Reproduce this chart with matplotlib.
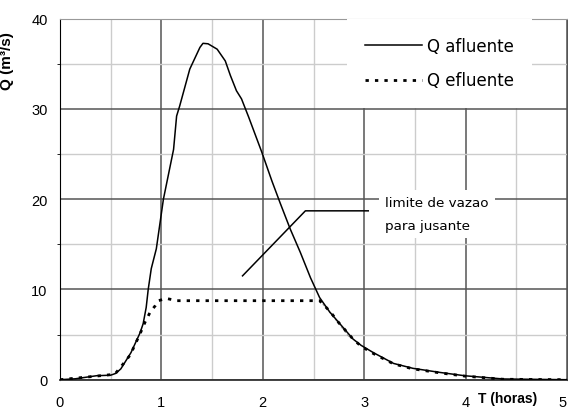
import matplotlib.pyplot as plt
from matplotlib.ticker import MultipleLocator

plt.rcParams["font.family"] = ["Liberation Sans", "DejaVu Sans"]

# hidrograma afluente (Q afluente)
t_afl = [0.0, 0.15, 0.36, 0.50, 0.55, 0.60, 0.70, 0.79, 0.82, 0.85, 0.87, 0.90,
         0.95, 1.02, 1.12, 1.15, 1.18, 1.28, 1.38, 1.41, 1.46, 1.55, 1.63, 1.68,
         1.74, 1.79, 1.86, 1.99, 2.09, 2.17, 2.27, 2.37, 2.47, 2.56, 2.66, 2.89,
         2.97, 3.09, 3.29, 3.48, 3.75, 3.99, 4.37, 5.0]
q_afl = [0.0, 0.1, 0.44, 0.5, 0.7, 1.2, 3.0, 5.2, 6.2, 8.0, 10.0, 12.3,
         14.5, 20.0, 25.5, 29.2, 30.3, 34.4, 36.8, 37.25, 37.2, 36.6, 35.3, 33.7,
         32.0, 31.1, 29.1, 25.2, 22.0, 19.6, 16.7, 14.1, 11.3, 9.1, 7.5, 4.5,
         3.8, 3.0, 1.8, 1.26, 0.8, 0.44, 0.08, 0.0]

# hidrograma efluente (Q efluente)
t_efl = [0.0, 0.36, 0.54, 0.62, 0.69, 0.72, 0.79, 0.84, 0.89, 0.94, 0.97, 1.05,
         1.15, 1.3, 2.0, 2.56, 2.66, 2.75, 2.89, 2.97, 3.09, 3.29, 3.48, 3.75,
         3.99, 4.37, 5.0]
q_efl = [0.0, 0.4, 0.6, 1.7, 2.7, 3.4, 5.1, 6.4, 7.5, 8.2, 8.75, 9.0,
         8.75, 8.75, 8.75, 8.75, 7.6, 6.3, 4.5, 3.7, 2.9, 1.75, 1.2, 0.75,
         0.4, 0.05, 0.0]

# trecho fino cinza na recessao
t_fino = [2.56, 2.70, 2.86]
q_fino = [8.8, 6.9, 4.6]

# linha de chamada do texto
t_nota = [1.80, 2.42, 3.04]
q_nota = [11.5, 18.7, 18.7]

x_ticks = [0, 1, 2, 3, 4, 5]
y_ticks = [0, 10, 20, 30, 40]

fig = plt.figure(figsize=(5.68, 4.10), dpi=100)
ax = fig.add_axes([60 / 568, 29.3 / 410, 507 / 568, 361.2 / 410])

ax.set_xlim(0, 5)
ax.set_ylim(0, 40)
ax.set_xticks(x_ticks)
ax.set_yticks(y_ticks)
ax.xaxis.set_minor_locator(MultipleLocator(0.5))
ax.yaxis.set_minor_locator(MultipleLocator(5))

ax.grid(which="major", color="#555555", linewidth=1.1, zorder=0)
ax.grid(which="minor", color="#cccccc", linewidth=1.0, zorder=0)
ax.set_axisbelow(True)

ax.spines["left"].set_color("black")
ax.spines["bottom"].set_color("#333333")
ax.spines["bottom"].set_linewidth(1.3)
ax.spines["top"].set_color("#999999")
ax.spines["right"].set_color("#555555")

ax.tick_params(axis="x", which="both", length=0, pad=11, labelsize=10.5)
ax.tick_params(axis="y", which="major", length=0, pad=9, labelsize=10.5)
ax.tick_params(axis="y", which="minor", length=2, direction="out")
# o ultimo rotulo fica encostado na borda da figura
ax.xaxis.get_major_ticks()[-1].label1.set_horizontalalignment("right")

ax.plot(t_afl, q_afl, color="black", linewidth=1.1, label="Q afluente", zorder=3)
ax.plot(t_efl, q_efl, color="black", linewidth=2.0, linestyle=(0, (1.2, 2.2)),
        label="Q efluente", zorder=4)
ax.plot(t_fino, q_fino, color="#999999", linewidth=0.7, linestyle=(0, (3, 2)), zorder=2)

ax.plot(t_nota, q_nota, color="black", linewidth=1.1, zorder=3)
ax.text(3.205, 18.35, "limite de vazao\npara jusante", fontsize=9.7,
        family="DejaVu Sans", linespacing=2.0, ha="left", va="center", zorder=5,
        bbox=dict(boxstyle="square,pad=0.45", facecolor="white", edgecolor="none"))

leg = ax.legend(loc="upper left", bbox_to_anchor=(0.566, 1.0),
                prop={"family": "DejaVu Sans", "size": 12},
                handlelength=3.4, handletextpad=0.3, labelspacing=1.0,
                borderpad=1.1, borderaxespad=0.0, fancybox=False, framealpha=1.0)
leg.get_frame().set_edgecolor("none")
leg.get_frame().set_facecolor("white")

ax.set_ylabel("Q (m\u00b3/s)", fontsize=11, fontweight="bold")
ax.yaxis.set_label_coords(-0.09, 0.885)
ax.text(4.41, -2.0, "T (horas)", fontsize=10, fontweight="bold",
        ha="center", va="center", clip_on=False)

fig.savefig("out.png", dpi=100)
